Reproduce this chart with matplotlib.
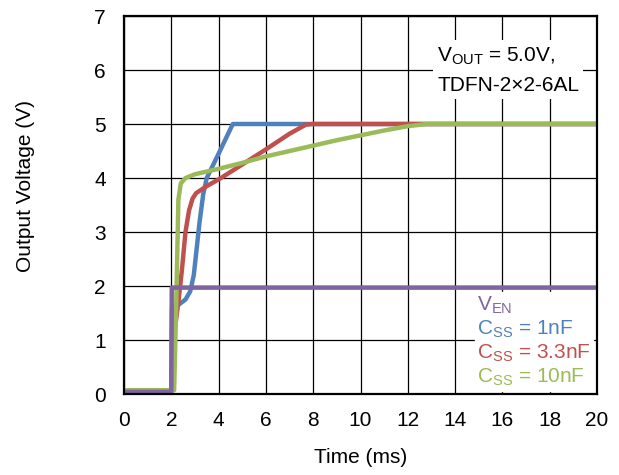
import matplotlib
matplotlib.use("Agg")
import matplotlib.pyplot as plt
from matplotlib.lines import Line2D

plt.rcParams['font.family'] = ['Liberation Sans', 'DejaVu Sans']

# Data (time in ms, voltage in V)
t_en = [0, 2.0, 2.02, 20]
v_en = [0.04, 0.04, 1.97, 1.97]

t_1n = [0, 2.0, 2.03, 2.3, 2.6, 2.8, 2.95, 3.1, 3.2, 3.35, 3.5, 4.0, 4.6, 4.7, 6, 8, 10, 12, 14, 16, 18, 20]
v_1n = [0.07, 0.07, 1.6, 1.65, 1.75, 1.9, 2.2, 2.8, 3.2, 3.7, 4.0, 4.45, 5.0, 5.0, 5.0, 5.0, 5.0, 5.0, 5.0, 5.0, 5.0, 5.0]

t_33n = [0, 2.05, 2.15, 2.3, 2.45, 2.6, 2.75, 2.9, 3.05, 3.5, 4.1, 5, 6, 7, 7.7, 8, 10, 12, 14, 16, 18, 20]
v_33n = [0.07, 0.07, 1.2, 1.7, 2.3, 3.0, 3.4, 3.62, 3.72, 3.85, 4.0, 4.25, 4.53, 4.82, 4.99, 5.0, 5.0, 5.0, 5.0, 5.0, 5.0, 5.0]

t_10n = [0, 2.12, 2.2, 2.3, 2.4, 2.6, 3.0, 4.0, 5.0, 6.0, 7.0, 8.0, 9.0, 10, 11, 12, 12.8, 14, 16, 18, 20]
v_10n = [0.07, 0.07, 1.5, 3.6, 3.9, 4.0, 4.07, 4.17, 4.28, 4.4, 4.5, 4.6, 4.7, 4.79, 4.88, 4.96, 5.0, 5.0, 5.0, 5.0, 5.0]

labels = [r'$\mathregular{V_{EN}}$', r'$\mathregular{C_{SS}}$ = 1nF',
          r'$\mathregular{C_{SS}}$ = 3.3nF', r'$\mathregular{C_{SS}}$ = 10nF']
colors = ['#8064A2', '#4F81BD', '#C0504D', '#9BBB59']

x_ticks = list(range(0, 21, 2))
y_ticks = list(range(0, 8))

fs = 15

fig = plt.figure(figsize=(6.19, 4.75), dpi=100)
ax = fig.add_axes([0.2003, 0.1705, 0.7642, 0.7958])

lw = 3.2
ax.plot(t_1n, v_1n, color=colors[1], lw=lw, zorder=3, solid_capstyle='butt')
ax.plot(t_33n, v_33n, color=colors[2], lw=lw, zorder=4, solid_capstyle='butt')
ax.plot(t_10n, v_10n, color=colors[3], lw=lw, zorder=5, solid_capstyle='butt')
ax.plot(t_en, v_en, color=colors[0], lw=lw, zorder=6, solid_capstyle='butt')

ax.set_xlim(0, 20)
ax.set_ylim(0, 7)
ax.set_xticks(x_ticks)
ax.set_yticks(y_ticks)
ax.tick_params(length=0, labelsize=fs)
ax.tick_params(axis='x', pad=12)
ax.tick_params(axis='y', pad=13)
ax.grid(True, color='black', lw=0.9)
ax.set_axisbelow(True)
for s in ax.spines.values():
    s.set_linewidth(1.6)
    s.set_zorder(10)

ax.set_xlabel('Time (ms)', fontsize=fs)
ax.set_ylabel('Output Voltage (V)', fontsize=fs)
ax.xaxis.set_label_coords(0.5, -0.142)
ax.yaxis.set_label_coords(-0.188, 0.55)

ax.text(0.662, 0.857, r'$\mathregular{V_{OUT}}$ = 5.0V,' + '\nTDFN-2×2-6AL',
        transform=ax.transAxes, fontsize=fs, va='center', ha='left',
        linespacing=1.6, zorder=8,
        bbox=dict(facecolor='white', edgecolor='none', pad=3))

handles = [Line2D([], [], lw=0) for _ in labels]
leg = ax.legend(handles, labels, loc='lower right', bbox_to_anchor=(0.992, 0.008),
                handlelength=0, handletextpad=0, fontsize=fs,
                frameon=True, fancybox=False, framealpha=1, edgecolor='white',
                labelspacing=0.14, borderpad=0.12, borderaxespad=0)
leg.set_zorder(9)
for txt, c in zip(leg.get_texts(), colors):
    txt.set_color(c)

fig.savefig('out.png', dpi=100)
